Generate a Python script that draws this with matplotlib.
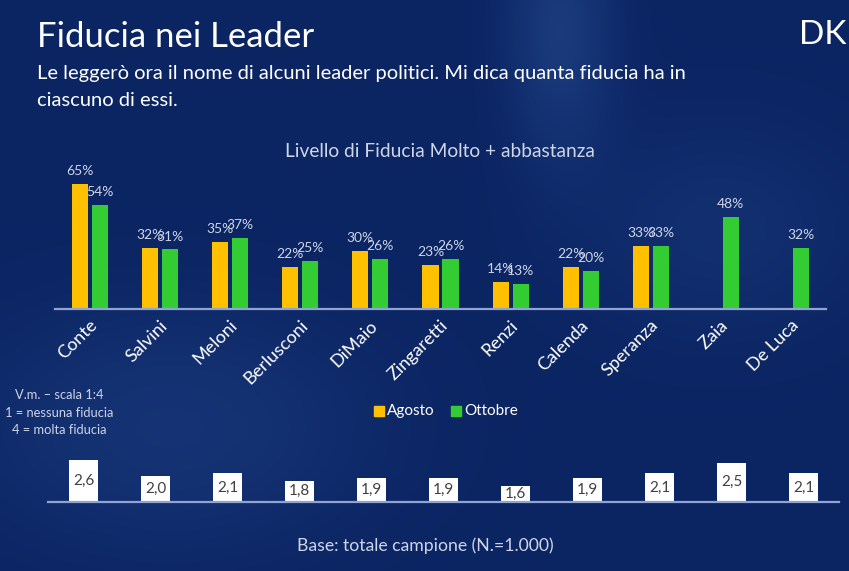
import numpy as np
import matplotlib
matplotlib.use('Agg')
import matplotlib.pyplot as plt

plt.rcParams['font.family'] = ['Lato', 'DejaVu Sans']

# dati
leader = ['Conte', 'Salvini', 'Meloni', 'Berlusconi', 'DiMaio', 'Zingaretti',
          'Renzi', 'Calenda', 'Speranza', 'Zaia', 'De Luca']
agosto = [65, 32, 35, 22, 30, 23, 14, 22, 33, None, None]
ottobre = [54, 31, 37, 25, 26, 26, 13, 20, 33, 48, 32]
media = [2.6, 2.0, 2.1, 1.8, 1.9, 1.9, 1.6, 1.9, 2.1, 2.5, 2.1]

NAVY = '#0b2462'
YEL = '#FFC000'
GRN = '#33CC33'
LINE = '#8fa4d3'
LBL = '#cdd5e6'

W, H = 849, 571
fig = plt.figure(figsize=(W / 100, H / 100), dpi=100)

# sfondo sfumato
bg = fig.add_axes([0, 0, 1, 1])
yy, xx = np.mgrid[0:1:300j, 0:1:450j]
base = np.array([11, 36, 98]) / 255.
glow = np.array([40, 80, 150]) / 255.
g = (0.5 * np.exp(-((xx - 0.66) ** 2 / 0.004 + (yy - 0.05) ** 2 / 0.05))
     + 0.35 * np.exp(-((xx - 0.2) ** 2 / 0.06 + (yy - 0.75) ** 2 / 0.05))
     + 0.25 * np.exp(-((xx - 0.85) ** 2 / 0.03 + (yy - 0.4) ** 2 / 0.04)))
img = base[None, None, :] + g[..., None] * (glow - base)[None, None, :]
bg.imshow(np.clip(img, 0, 1), aspect='auto', extent=[0, 1, 0, 1], origin='upper')
bg.axis('off')

# titoli
fig.text(37 / W, 1 - 37 / H, 'Fiducia nei Leader', fontsize=25, color='white',
         va='center', ha='left')
fig.text(846 / W, 1 - 35 / H, 'DK', fontsize=24, color='white', va='center',
         ha='right')
fig.text(37 / W, 1 - 73 / H,
         'Le leggerò ora il nome di alcuni leader politici. Mi dica quanta fiducia ha in',
         fontsize=14.5, color='white', va='center')
fig.text(37 / W, 1 - 100 / H, 'ciascuno di essi.', fontsize=14.5, color='white',
         va='center')
fig.text(440 / W, 1 - 152 / H, 'Livello di Fiducia Molto + abbastanza',
         fontsize=13.8, color=LBL, va='center', ha='center')

# grafico barre
x = np.arange(len(leader))
ax = fig.add_axes([55 / W, (H - 309) / H, 771 / W, 144 / H])
ax.patch.set_visible(False)
bw = 0.23
off = 0.143
for i in range(len(leader)):
    if agosto[i] is not None:
        ax.bar(x[i] - off, agosto[i], bw, color=YEL)
        ax.annotate(f'{agosto[i]}%', (x[i] - off, agosto[i]), xytext=(0, 5),
                    textcoords='offset points', ha='center', va='bottom',
                    fontsize=10, color=LBL, annotation_clip=False)
    ax.bar(x[i] + off, ottobre[i], bw, color=GRN)
    ax.annotate(f'{ottobre[i]}%', (x[i] + off, ottobre[i]), xytext=(0, 5),
                textcoords='offset points', ha='center', va='bottom',
                fontsize=10, color=LBL, annotation_clip=False)
ax.set_xlim(-0.5, 10.5)
ax.set_ylim(0, 75)
for s in ['top', 'right', 'left']:
    ax.spines[s].set_visible(False)
ax.spines['bottom'].set_color(LINE)
ax.spines['bottom'].set_linewidth(1.6)
ax.set_yticks([])
ax.set_xticks(x + 0.07)
ax.set_xticklabels(leader, rotation=45, ha='right', va='center',
                   rotation_mode='anchor', fontsize=13, color='white')
ax.tick_params(axis='x', length=0, pad=10)

# legenda
leg_y = 1 - 411 / H
fig.patches.append(plt.Rectangle((374 / W, leg_y - 5 / H), 10 / W, 10 / H,
                                 color=YEL, transform=fig.transFigure))
fig.text(387 / W, leg_y, 'Agosto', fontsize=11, color='white', va='center')
fig.patches.append(plt.Rectangle((451 / W, leg_y - 5 / H), 10 / W, 10 / H,
                                 color=GRN, transform=fig.transFigure))
fig.text(464 / W, leg_y, 'Ottobre', fontsize=11, color='white', va='center')

# nota scala
for txt, yp in [('V.m. – scala 1:4', 395), ('1 = nessuna fiducia', 413),
                ('4 = molta fiducia', 430)]:
    fig.text(59 / W, 1 - yp / H, txt, fontsize=9.3, color=LBL, ha='center',
             va='center')

# voto medio
ax2 = fig.add_axes([47.5 / W, (H - 501.7) / H, 792 / W, 46.8 / H])
ax2.patch.set_visible(False)
vb = 1.0
ax2.bar(x, [v - vb for v in media], 0.40, bottom=vb, color='white')
for i, v in enumerate(media):
    ax2.text(x[i], (v + vb) / 2, f'{v:.1f}'.replace('.', ','), ha='center',
             va='center', fontsize=11, color='#404040')
ax2.set_xlim(-0.5, 10.5)
ax2.set_ylim(vb, vb + 1.8)
for s in ['top', 'right', 'left']:
    ax2.spines[s].set_visible(False)
ax2.spines['bottom'].set_color(LINE)
ax2.spines['bottom'].set_linewidth(1.6)
ax2.set_xticks([])
ax2.set_yticks([])

fig.text(425 / W, 1 - 546 / H, 'Base: totale campione (N.=1.000)', fontsize=12.7,
         color=LBL, ha='center', va='center')

fig.savefig('out.png', dpi=100)
